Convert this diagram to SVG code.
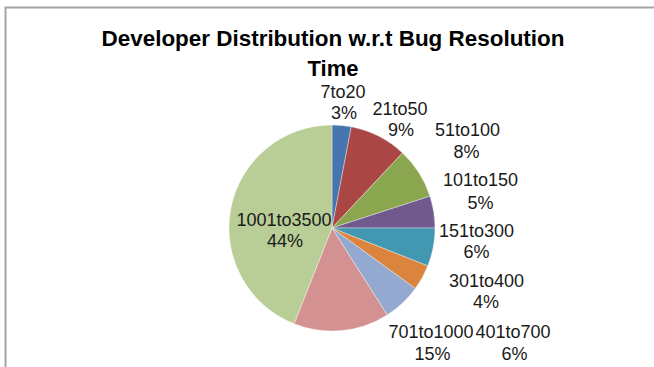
<svg xmlns="http://www.w3.org/2000/svg" width="654" height="367" viewBox="0 0 654 367">
<style>
.t{font-family:"Liberation Sans",Arial,sans-serif;font-weight:bold;font-size:22px;fill:#000;text-anchor:middle}
.l{font-family:"Liberation Sans",Arial,sans-serif;font-size:18px;fill:#1a1a1a;text-anchor:middle}
.s{stroke:#ffffff;stroke-width:0.6;stroke-opacity:0.6}
</style>
<rect x="0" y="0" width="654" height="367" fill="#ffffff"/>
<polyline points="5.5,367 5.5,7.5 654,7.5" fill="none" stroke="#a3a3a3" stroke-width="2"/>
<g id="title">
<text class="t" x="333" y="46" textLength="463" lengthAdjust="spacingAndGlyphs">Developer Distribution w.r.t Bug Resolution</text>
<text class="t" x="333" y="76">Time</text>
</g>
<g id="slice-7to20">
<path class="s" d="M332,228 L332,125 A103,103 0 0 1 351.30,126.82 Z" fill="#4675B0"/>
<text class="l" x="343" y="97.5">7to20</text>
<text class="l" x="344" y="118.5">3%</text>
</g>
<g id="slice-21to50">
<path class="s" d="M332,228 L351.30,126.82 A103,103 0 0 1 402.51,152.92 Z" fill="#AA4644"/>
<text class="l" x="400" y="115">21to50</text>
<text class="l" x="401" y="136">9%</text>
</g>
<g id="slice-51to100">
<path class="s" d="M332,228 L402.51,152.92 A103,103 0 0 1 429.96,196.17 Z" fill="#8AA64E"/>
<text class="l" x="467.5" y="136">51to100</text>
<text class="l" x="466.5" y="157.5">8%</text>
</g>
<g id="slice-101to150">
<path class="s" d="M332,228 L429.96,196.17 A103,103 0 0 1 435,228 Z" fill="#71598E"/>
<text class="l" x="480.5" y="186">101to150</text>
<text class="l" x="480.5" y="209">5%</text>
</g>
<g id="slice-151to300">
<path class="s" d="M332,228 L435,228 A103,103 0 0 1 427.77,265.92 Z" fill="#4298B0"/>
<text class="l" x="476.5" y="237">151to300</text>
<text class="l" x="476.5" y="258">6%</text>
</g>
<g id="slice-301to400">
<path class="s" d="M332,228 L427.77,265.92 A103,103 0 0 1 415.33,288.54 Z" fill="#DB843D"/>
<text class="l" x="486.5" y="287">301to400</text>
<text class="l" x="486" y="308">4%</text>
</g>
<g id="slice-401to700">
<path class="s" d="M332,228 L415.33,288.54 A103,103 0 0 1 387.19,314.97 Z" fill="#94A9D0"/>
<text class="l" x="513" y="338">401to700</text>
<text class="l" x="514.5" y="360">6%</text>
</g>
<g id="slice-701to1000">
<path class="s" d="M332,228 L387.19,314.97 A103,103 0 0 1 294.08,323.77 Z" fill="#D39291"/>
<text class="l" x="431" y="338">701to1000</text>
<text class="l" x="432.5" y="360">15%</text>
</g>
<g id="slice-1001to3500">
<path class="s" d="M332,228 L294.08,323.77 A103,103 0 0 1 332,125 Z" fill="#B9CD96"/>
<text class="l" x="284" y="225.5">1001to3500</text>
<text class="l" x="285" y="247">44%</text>
</g>
<g id="connectors"/>
</svg>
